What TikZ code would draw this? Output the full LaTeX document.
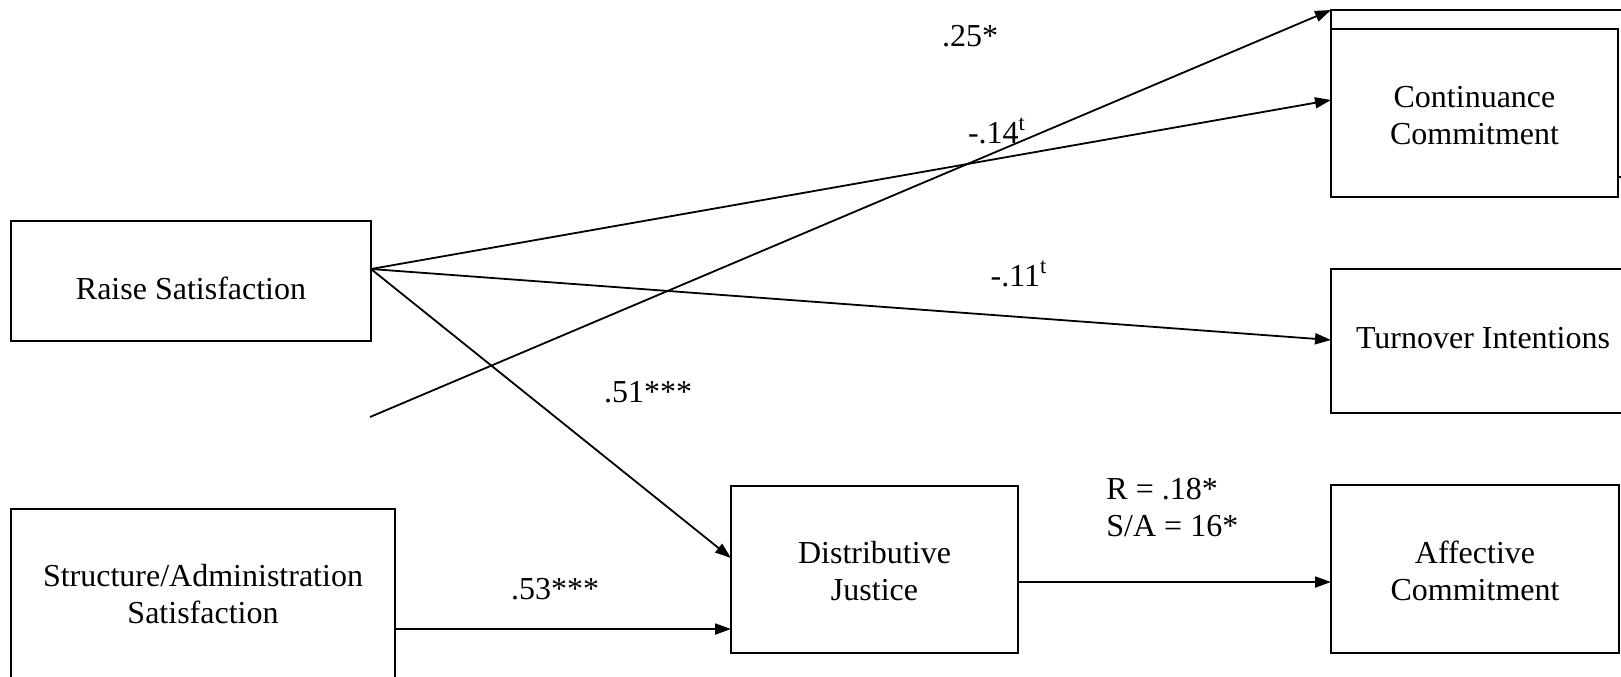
\documentclass[tikz,border=0pt]{standalone}
\usepackage{fontspec}
\setmainfont{Liberation Serif}
\usetikzlibrary{arrows.meta}
\tikzset{
  box/.style={draw, line width=1pt, rectangle, inner sep=0pt},
  txt/.style={inner sep=0pt, align=center, font=\fontsize{16}{18.5}\selectfont},
  lbl/.style={inner sep=0pt, font=\fontsize{16}{18.5}\selectfont},
  conn/.style={line width=0.9pt, -{Triangle[length=8pt,width=5.5pt]}},
  plain/.style={line width=0.9pt}
}
\begin{document}
\begin{tikzpicture}[x=0.5pt,y=-0.5pt]
\useasboundingbox (0,0) rectangle (1621,676);
\clip (0,0) rectangle (1621,676);
% boxes
\node[box, minimum width=180pt, minimum height=60pt] (raise) at (191,281) {};
\node[txt] (raiseT) at (191,288) {Raise Satisfaction};
\node[box, minimum width=192pt, minimum height=85pt] (sa) at (203,594) {};
\node[txt] (saT) at (203,594) {Structure/Administration\\Satisfaction};
\node[box, minimum width=143.5pt, minimum height=83.5pt] (dj) at (874.5,569.5) {};
\node[txt] (djT) at (874.5,571.5) {Distributive\\Justice};
\node[box, minimum width=144pt, minimum height=84pt] (ac) at (1475,569) {};
\node[txt] (acT) at (1475,571) {Affective\\Commitment};
\node[box, minimum width=152pt, minimum height=72pt] (ti) at (1483,341) {};
\node[txt] (tiT) at (1483,338) {Turnover Intentions};
\node[box, minimum width=143.5pt, minimum height=84pt] (cc) at (1474.5,113) {};
\node[txt] (ccT) at (1474.5,116) {Continuance\\Commitment};
% partial outer box behind continuance
\coordinate (ob) at (1331,10);
\draw[plain] (1331,29) -- (ob) -- (1630,10);
\draw[plain] (1618,177) -- (1625,177);
% connector anchor points
\coordinate (rs) at (371,269);
\coordinate (free) at (370,417);
\coordinate (ccin) at (1331,100);
\coordinate (tiin) at (1331,340);
\coordinate (djin1) at (731,558);
\coordinate (saout) at (395,629);
\coordinate (djin2) at (731,629);
\coordinate (djout) at (1018,582);
\coordinate (acin) at (1331,582);
% connectors
\draw[conn] (rs) -- (ccin);
\draw[conn] (rs) -- (tiin);
\draw[conn] (rs) -- (djin1);
\draw[conn] (free) -- (ob);
\draw[conn] (saout) -- (djin2);
\draw[conn] (djout) -- (acin);
% labels
\node[lbl] (l25) at (970,36) {.25*};
\node[lbl] (l14) at (997,131) {-.14\textsuperscript{t}};
\node[lbl] (l11) at (1019,274) {-.11\textsuperscript{t}};
\node[lbl] (l51) at (648,392) {.51***};
\node[lbl] (l53) at (555,589) {.53***};
\node[lbl, align=left, anchor=north west] (lrs) at (1106,478) {R = .18*\\S/A = 16*};
\end{tikzpicture}
\end{document}
